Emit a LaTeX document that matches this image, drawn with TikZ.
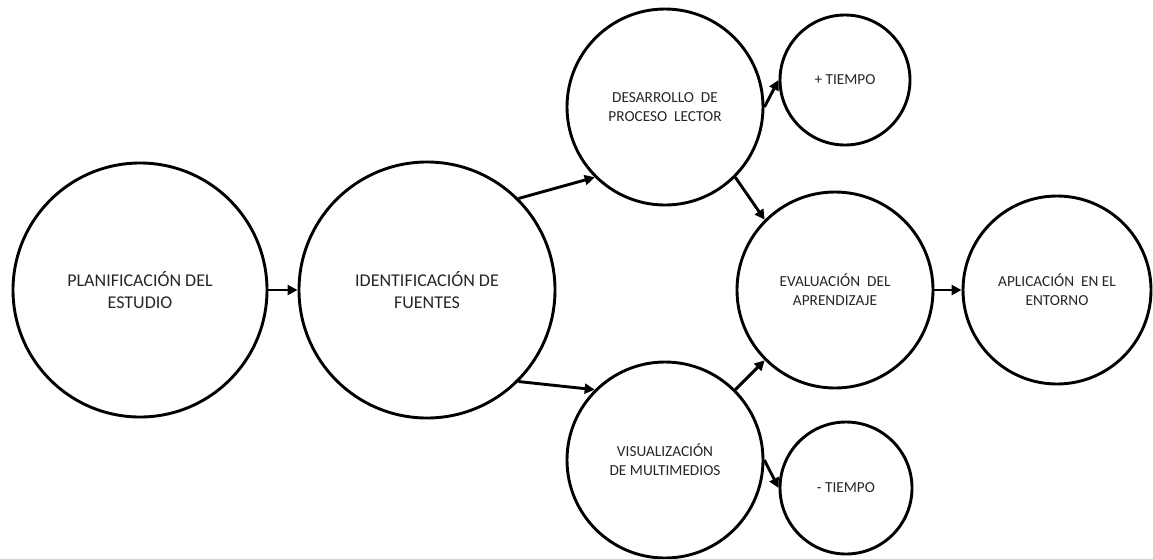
\documentclass[tikz,border=0pt]{standalone}
\usepackage{fontspec}
\setmainfont{Carlito}
\usetikzlibrary{arrows.meta}
\begin{document}
\begin{tikzpicture}[x=1pt,y=-1pt,
  circ/.style={circle,draw,line width=2.9pt,inner sep=0pt,align=center,text=black!85},
  big/.style={font=\fontsize{18}{22}\selectfont},
  small/.style={font=\fontsize{15.3}{19}\selectfont},
  arr/.style={line width=2.9pt,-{Triangle[length=10pt,width=10pt]}}]
\useasboundingbox (0,0) rectangle (1153,558);
\node[circ,big,minimum size=254pt] (c1) at (140,290) {PLANIFICACIÓN DEL\\ESTUDIO};
\node[circ,big,minimum size=256pt] (c2) at (427,290) {IDENTIFICACIÓN DE\\FUENTES};
\node[circ,small,minimum size=196pt] (c3) at (665,107) {DESARROLLO~ DE\\PROCESO~ LECTOR};
\node[circ,small,minimum size=130pt] (c4) at (845,80) {+ TIEMPO};
\node[circ,small,minimum size=196pt] (c5) at (835,290) {EVALUACIÓN~ DEL\\APRENDIZAJE};
\node[circ,small,minimum size=188pt] (c6) at (1057,290) {APLICACIÓN~ EN EL\\ENTORNO};
\node[circ,small,minimum size=196pt] (c7) at (665,460) {VISUALIZACIÓN\\DE MULTIMEDIOS};
\node[circ,small,minimum size=132pt] (c8) at (846,488) {- TIEMPO};
\draw[arr] (c1.east) -- (c2.west);
\draw[arr] (c2.45) -- (c3.225);
\draw[arr] (c2.-45) -- (c7.135);
\draw[arr] (c3.0) -- (c4.180);
\draw[arr] (c3.-45) -- (c5.135);
\draw[arr] (c7.45) -- (c5.225);
\draw[arr] (c7.0) -- (c8.180);
\draw[arr] (c5.east) -- (c6.west);
\end{tikzpicture}
\end{document}
